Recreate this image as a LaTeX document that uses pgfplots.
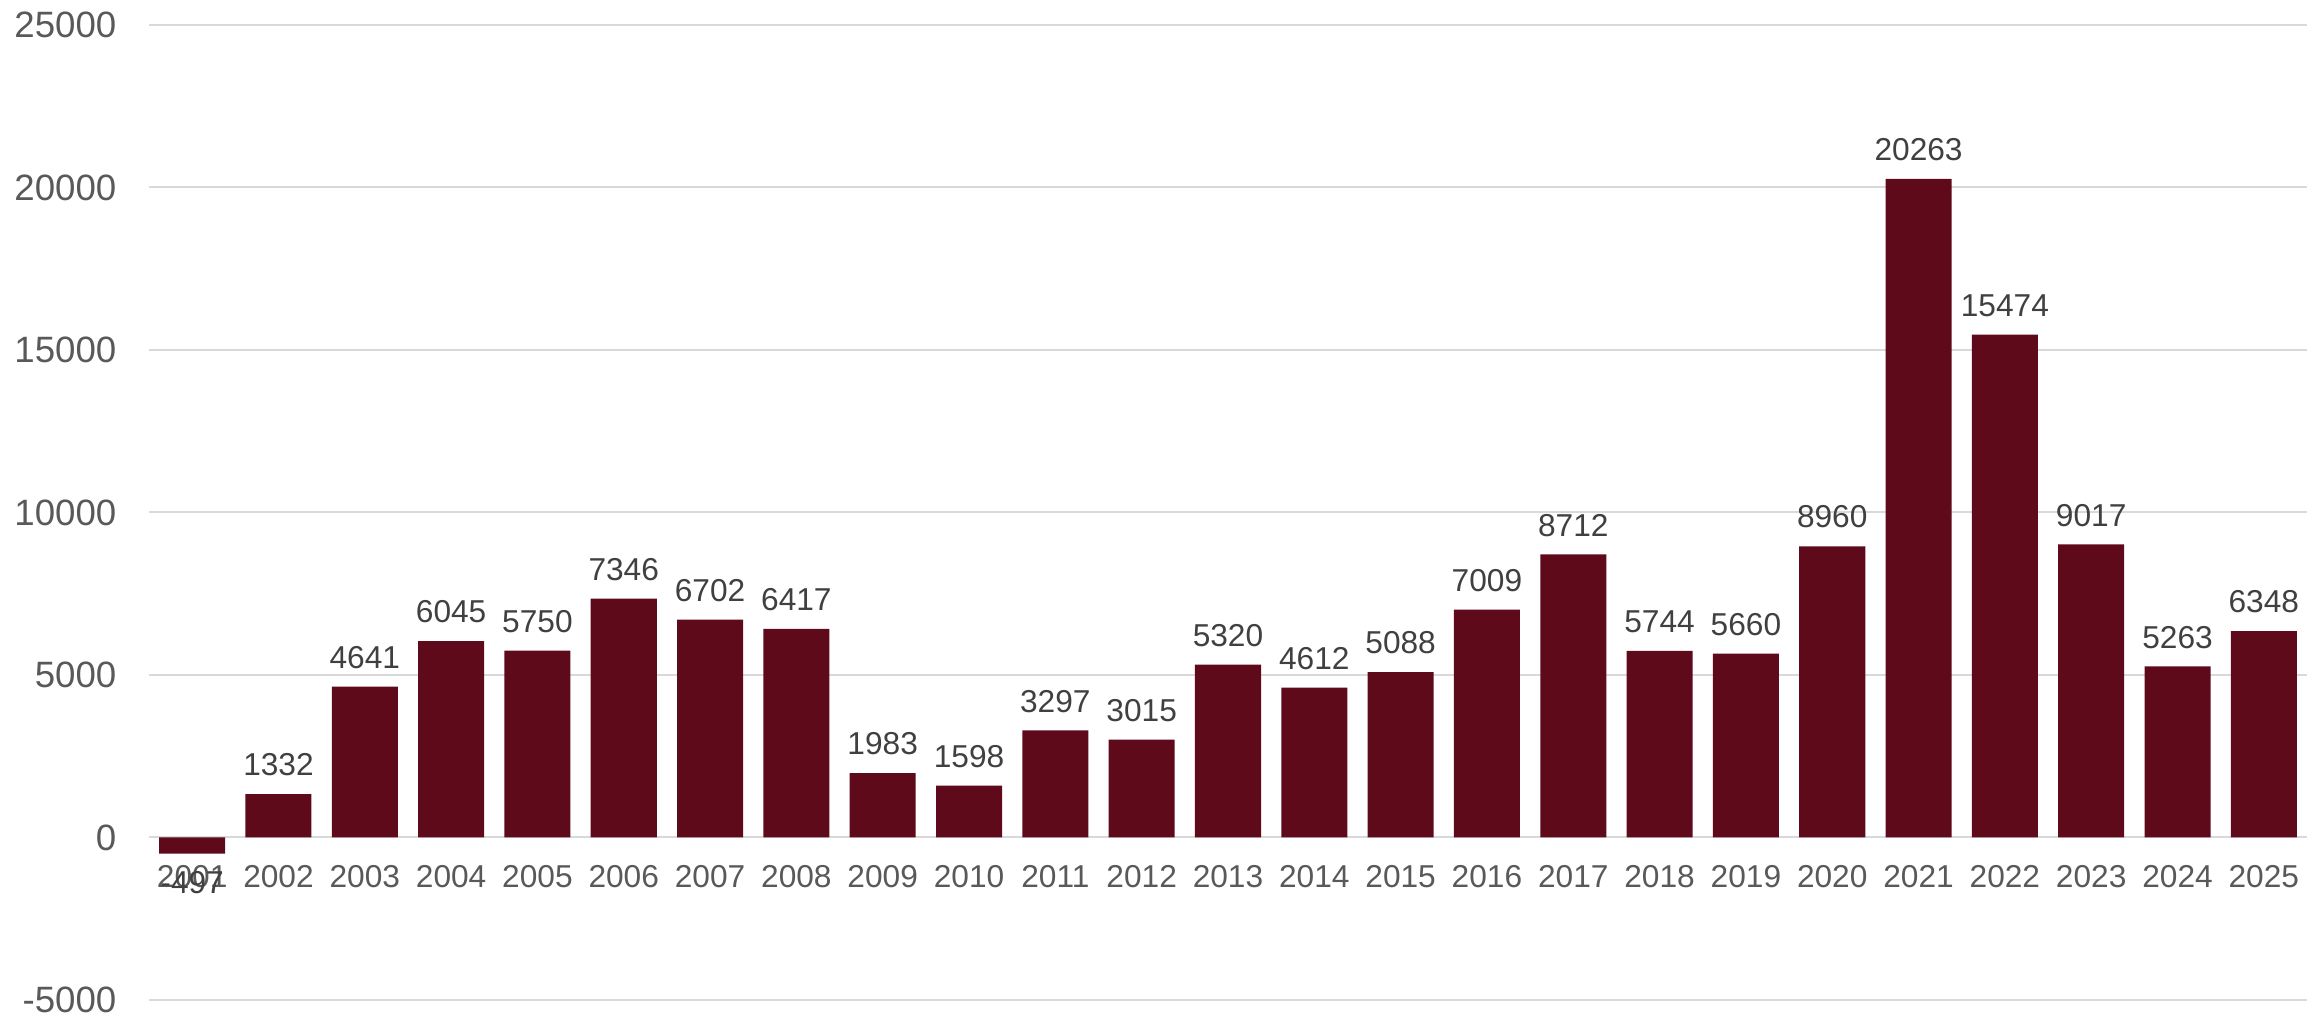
\documentclass[border=0pt]{standalone}
\usepackage{pgfplots}
\pgfplotsset{compat=1.18}
\usepackage{fontspec}
\setmainfont{Liberation Sans}
\definecolor{barc}{HTML}{5E0A1B}
\definecolor{gridc}{HTML}{D9D9D9}
\definecolor{tickc}{HTML}{595959}
\definecolor{labc}{HTML}{404040}
\begin{document}
\begin{tikzpicture}
\path (-44.7pt,-4.8pt) rectangle (652.2pt,300pt);
\begin{axis}[
  at={(0,0)}, anchor=south west,
  scale only axis, width=647.4pt, height=292.5pt,
  ybar, bar width=0.765,
  xmin=-0.5, xmax=24.5, ymin=-5000, ymax=25000,
  ytick={-5000,0,5000,10000,15000,20000,25000},
  scaled y ticks=false,
  xtick={0,...,24},
  xticklabels={2001,2002,2003,2004,2005,2006,2007,2008,2009,2010,2011,2012,2013,2014,2015,2016,2017,2018,2019,2020,2021,2022,2023,2024,2025},
  axis x line=middle, axis y line=left,
  axis line style={draw=none},
  hide obscured x ticks=false, hide obscured y ticks=false,
  major tick length=0pt, tick style={draw=none},
  ymajorgrids, grid style={gridc, line width=0.6pt},
  /pgf/number format/.cd, 1000 sep={}, fixed, assume math mode=true, /pgfplots/.cd,
  yticklabel style={font=\fontsize{11}{13}\selectfont, text=tickc, inner sep=0pt, xshift=-9.6pt},
  xticklabel style={font=\fontsize{9.5}{11}\selectfont, text=tickc, inner sep=0pt, yshift=-8.1pt},
  nodes near coords,
  every node near coord/.append style={font=\fontsize{9.5}{11}\selectfont, text=labc, inner sep=0pt, inner ysep=5.2pt},
]
\addplot[fill=barc, draw=none] coordinates {
(0,-497) (1,1332) (2,4641) (3,6045) (4,5750) (5,7346) (6,6702) (7,6417) (8,1983) (9,1598)
(10,3297) (11,3015) (12,5320) (13,4612) (14,5088) (15,7009) (16,8712) (17,5744) (18,5660) (19,8960)
(20,20263) (21,15474) (22,9017) (23,5263) (24,6348)
};
\end{axis}
\end{tikzpicture}
\end{document}
